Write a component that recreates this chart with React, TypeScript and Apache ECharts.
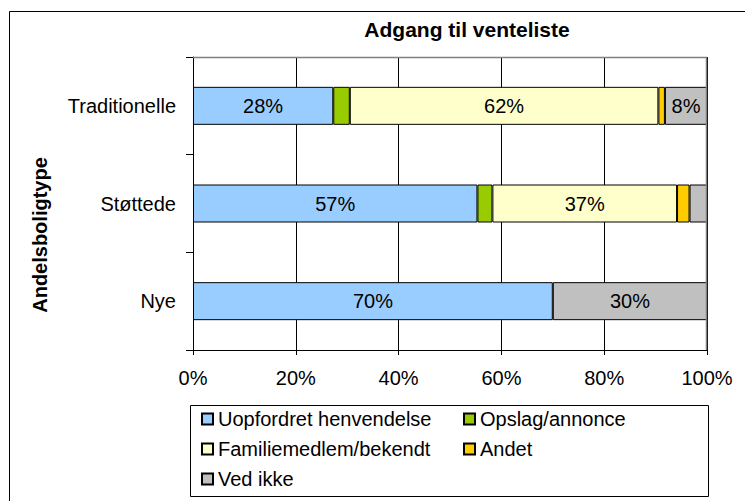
import React, { useEffect, useRef } from "react";
import * as echarts from "echarts";

const categories = ["Traditionelle", "Støttede", "Nye"];
const seriesNames = [
  "Uopfordret henvendelse",
  "Opslag/annonce",
  "Familiemedlem/bekendt",
  "Andet",
  "Ved ikke",
];
const uopfordret = [28, 57, 70];
const opslag = [3.3, 3, 0];
const familie = [61.6, 37, 0];
const andet = [1.3, 2.5, 0];
const vedIkke = [8.4, 3.5, 30];
const colors = ["#99CCFF", "#99CC00", "#FFFFCC", "#FFCC00", "#C0C0C0"];
const xTickStep = 20;
const xMax = 100;
const titleText = "Adgang til venteliste";
const yAxisName = "Andelsboligtype";

const FONT = "'Liberation Sans', Arial, sans-serif";

export default function App() {
  const ref = useRef<HTMLDivElement>(null);

  useEffect(() => {
    document.body.style.margin = "0";
    if (!ref.current) return;
    const chart = echarts.init(ref.current, null, { renderer: "svg" });

    const raw = [uopfordret, opslag, familie, andet, vedIkke];
    const totals = categories.map((_, i) => raw.reduce((s, arr) => s + arr[i], 0));

    const series = raw.map((arr, si) => ({
      name: seriesNames[si],
      type: "bar",
      stack: "total",
      barWidth: 38,
      itemStyle: { color: colors[si], borderColor: "#000", borderWidth: 1 },
      label: {
        show: true,
        position: "inside",
        color: "#000",
        fontSize: 20,
        fontFamily: FONT,
        formatter: (p: any) => {
          const v = arr[p.dataIndex];
          return v >= 5 ? Math.round(v) + "%" : "";
        },
      },
      data: arr.map((v, i) => (v === 0 ? "-" : (v / totals[i]) * 100)),
    }));

    const legendItem = (name: string, left: number, top: number) => ({
      data: [name],
      left,
      top,
      padding: 0,
      orient: "vertical",
      icon: "rect",
      itemWidth: 11,
      itemHeight: 11,
      textStyle: { fontSize: 20, fontFamily: FONT, color: "#000", lineHeight: 20 },
    });

    chart.setOption({
      animation: false,
      backgroundColor: "#fff",
      textStyle: { fontFamily: FONT },
      grid: { left: 193, top: 57, width: 514, height: 293, containLabel: false },
      xAxis: {
        type: "value",
        min: 0,
        max: xMax,
        interval: xTickStep,
        axisLine: { show: true, lineStyle: { color: "#000", width: 1 } },
        axisTick: { show: true, length: 5, lineStyle: { color: "#000" } },
        axisLabel: {
          formatter: "{value}%",
          fontSize: 20,
          color: "#000",
          fontFamily: FONT,
          margin: 18,
        },
        splitLine: { show: true, lineStyle: { color: "#000", width: 1 } },
      },
      yAxis: {
        type: "category",
        data: categories,
        inverse: true,
        axisLine: { show: true, lineStyle: { color: "#000", width: 1 } },
        axisTick: { show: true, length: 7, lineStyle: { color: "#000" } },
        axisLabel: { fontSize: 20, color: "#000", fontFamily: FONT, margin: 17 },
      },
      legend: [
        legendItem(seriesNames[0], 201, 409),
        legendItem(seriesNames[2], 201, 439),
        legendItem(seriesNames[4], 201, 469),
        legendItem(seriesNames[1], 463, 409),
        legendItem(seriesNames[3], 463, 439),
      ],
      graphic: [
        {
          type: "rect",
          shape: { x: 9.5, y: 11.5, width: 800, height: 600 },
          style: { fill: "none", stroke: "#000", lineWidth: 1 },
          z: 100,
          silent: true,
        },
        {
          type: "polyline",
          shape: { points: [[193, 57.5], [706.5, 57.5], [706.5, 350]] },
          style: { fill: "none", stroke: "#808080", lineWidth: 1.5 },
          z: 100,
          silent: true,
        },
        {
          type: "rect",
          shape: { x: 190.5, y: 405.5, width: 518, height: 91 },
          style: { fill: "none", stroke: "#000", lineWidth: 1 },
          z: 100,
          silent: true,
        },
        {
          type: "text",
          x: 467,
          y: 29,
          style: {
            text: titleText,
            font: `bold 21px ${FONT}`,
            fill: "#000",
            textAlign: "center",
            textVerticalAlign: "middle",
          },
          z: 100,
        },
        {
          type: "text",
          x: 40,
          y: 235,
          rotation: Math.PI / 2,
          style: {
            text: yAxisName,
            font: `bold 20px ${FONT}`,
            fill: "#000",
            textAlign: "center",
            textVerticalAlign: "middle",
          },
          z: 100,
        },
      ],
      series,
    });

    return () => chart.dispose();
  }, []);

  return <div ref={ref} style={{ width: 745, height: 501 }} />;
}
